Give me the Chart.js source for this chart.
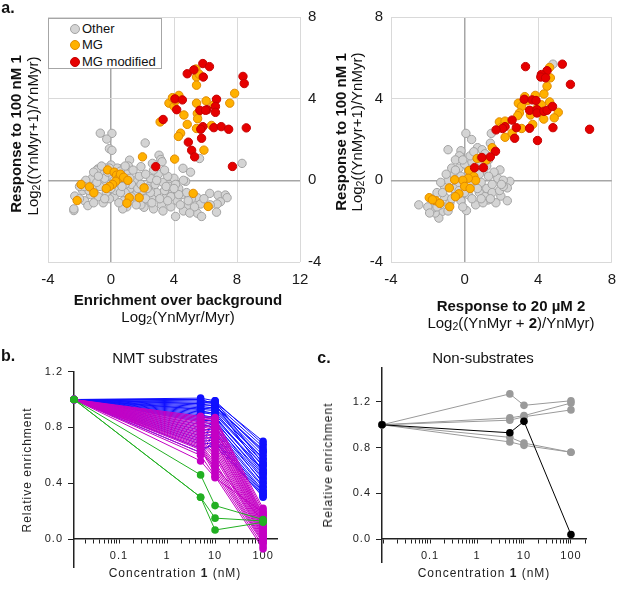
<!DOCTYPE html>
<html>
<head>
<meta charset="utf-8">
<script src="https://cdn.jsdelivr.net/npm/chart.js@4/dist/chart.umd.min.js"></script>
<style>
  body { margin: 0; background: #fff; }
  #fig { position: relative; width: 625px; height: 607px; overflow: hidden;
         font-family: "Liberation Sans", Arial, sans-serif; color: #111; }
  canvas { position: absolute; }
  .t { position: absolute; white-space: nowrap; line-height: 1; transform: translate(-50%, -50%); }
  .r { transform: translate(-50%, -50%) rotate(-90deg); }
  .b { font-weight: bold; }
  .f15 { font-size: 15px; }
  .sp { font-size: 12px; letter-spacing: 1px; color: #222; }
  .panel { font-size: 16px; font-weight: bold; }
  sub { font-size: 70%; vertical-align: -0.25em; line-height: 0; }
  #legend { position: absolute; left: 48px; top: 18px; width: 112px; height: 49px;
            border: 1px solid #a6a6a6; background: #fff; font-size: 13px; }
  #legend div { position: absolute; left: 21px; white-space: nowrap; line-height: 1; }
  #legend span { display: inline-block; width: 8px; height: 8px; border-radius: 50%;
                 border: 1px solid; margin-right: 2px; vertical-align: -1px; }
</style>
</head>
<body>
<div id="fig">
  <canvas id="scatter-left" width="340" height="300" style="left:0;top:0"></canvas>
  <canvas id="scatter-right" width="295" height="300" style="left:330px;top:0"></canvas>
  <canvas id="nmt-chart" width="300" height="240" style="left:0;top:360px"></canvas>
  <canvas id="non-chart" width="300" height="240" style="left:310px;top:356px"></canvas>

  <div id="legend">
    <div style="top:3px"><span style="background:#d4d4d4;border-color:#a3a3a3"></span>Other</div>
    <div style="top:19px"><span style="background:#ffb100;border-color:#e08a00"></span>MG</div>
    <div style="top:36px"><span style="background:#e60000;border-color:#c40000"></span>MG modified</div>
  </div>

  <div class="t panel" style="left:8px;top:8px">a.</div>
  <div class="t r b f15" style="left:15px;top:134px">Response to 100 nM 1</div>
  <div class="t r f15" style="left:32px;top:136px">Log<sub>2</sub>((YnMyr+1)/YnMyr)</div>
  <div class="t b f15" style="left:178px;top:299px">Enrichment over background</div>
  <div class="t f15" style="left:178px;top:316px">Log<sub>2</sub>(YnMyr/Myr)</div>

  <div class="t r b f15" style="left:340px;top:132px">Response to 100 nM 1</div>
  <div class="t r f15" style="left:356px;top:132px">Log<sub>2</sub>((YnMyr+1)/YnMyr)</div>
  <div class="t b f15" style="left:511px;top:305px">Response to 20 µM 2</div>
  <div class="t f15" style="left:511px;top:322px">Log<sub>2</sub>((YnMyr + <b>2</b>)/YnMyr)</div>

  <div class="t panel" style="left:8px;top:356px">b.</div>
  <div class="t f15" style="left:165px;top:357px">NMT substrates</div>
  <div class="t r sp" style="left:27px;top:470px">Relative enrichment</div>
  <div class="t sp" style="left:175px;top:573px">Concentration <b>1</b> (nM)</div>

  <div class="t panel" style="left:324px;top:358px">c.</div>
  <div class="t f15" style="left:483px;top:357px">Non-substrates</div>
  <div class="t r sp" style="left:328px;top:465px">Relative enrichment</div>
  <div class="t sp" style="left:484px;top:573px">Concentration <b>1</b> (nM)</div>
</div>

<script>
// ---- panel a, left: enrichment over background (x) vs response to 100 nM 1 (y)
const enrichOther = [
  [-0.68, 2.31], [0.06, 2.3], [-0.27, 2.02], [-0.1, 1.55], [0.06, 1.47], [2.17, 1.83], [1.18, 0.99],
  [1.9, 0.67], [2.63, 0.83], [0, 0.75], [-0.84, 0.56], [0.74, 0.59], [3.05, 1.23], [3.16, 1.02],
  [3.24, 0.91], [4.57, 0.59], [5.05, 0.4], [5.62, 1.07], [8.32, 0.83], [4.74, -0.05],
  [6.27, -0.64], [6.8, -0.73], [7.26, -0.72], [7.37, -0.85], [6.95, -1.05], [6.74, -1.16], [6.7, -1.56],
  [5.48, -0.85], [5.69, -1.16], [5.48, -1.61], [5.75, -1.77], [4.84, -1.24], [4.1, -1.77], [5.1, -0.9],
  [4.5, -0.7], [4.2, -1.0], [3.9, -0.5], [3.5, -0.8], [3.2, -1.2], [2.9, -0.6], [2.6, -0.9], [2.3, -1.08],
  [2.1, -1.32], [2.4, -0.3], [2.8, -0.2], [3.3, -0.1], [3.7, -0.3], [4.0, 0.1], [3.0, 0.3], [2.5, 0.1],
  [3.6, 0.2], [4.3, -0.4], [4.8, -0.6], [3.4, -0.5], [2.0, -0.5], [1.6, -0.7], [1.4, -1.0], [1.2, -0.4],
  [1.5, 0.0], [1.8, 0.2], [2.2, 0.3], [2.7, 0.5], [3.4, 0.5], [4.1, -0.2], [5.3, -1.3], [4.6, -1.5],
  [3.8, -1.3], [3.3, -1.5], [2.7, -1.4], [1.9, -1.2], [1.0, -1.3], [0.74, -1.4],
  [-2.3, -0.77], [-2.36, -1.48], [-2.36, -1.4], [-1.68, -1.0], [-1.47, -1.24], [-2.0, -0.9], [-1.8, -0.5],
  [-1.5, -0.2], [-1.2, 0.1], [-1.0, -0.4], [-0.8, -0.8], [-0.6, 0.3], [-0.5, -0.1], [-0.3, 0.6],
  [-0.2, -0.5], [0.0, 0.2], [0.2, -0.8], [0.4, 0.6], [0.5, -0.3], [0.7, 0.1], [0.9, -0.6], [1.0, 0.4],
  [-1.3, -0.7], [-0.9, 0.5], [-0.7, -0.3], [-0.4, 0.1], [0.1, -0.2], [0.3, 0.3], [0.8, -1.0], [0.5, -1.1],
  [-0.1, -0.9], [-0.5, -1.1], [-1.1, -1.1], [-0.3, -0.6], [1.3, -0.2], [1.1, 0.7], [-0.6, 0.7],
  [-1.1, 0.4], [-0.2, 0.4], [0.6, 0.45], [-1.6, 0.0], [-2.0, -0.3], [1.6, -1.2], [0.3, -0.5], [0.9, -0.2],
  [1.7, -0.4], [2.5, -0.6], [3.1, -0.9], [3.8, -0.8], [4.4, -1.2], [5.0, -1.6], [2.2, -0.9], [1.3, -0.8],
  [0.0, -0.4], [-0.9, -0.1], [-1.4, -0.5], [0.6, -0.6], [4.6, 0.0],
  [-0.4, -0.9], [0.2, 0.0], [0.7, -0.3], [1.2, 0.1], [1.9, -0.2], [2.3, -0.4], [2.9, 0.0], [3.5, -0.3],
  [4.3, -0.7], [4.9, -1.0], [5.9, -0.9], [6.3, -1.2], [-1.7, -0.3], [-0.8, 0.2], [-0.1, 0.6], [0.9, 0.7],
  [1.4, 0.5], [2.6, -1.1], [3.6, -1.0], [4.0, -0.4]
];
const enrichMG = [
  [5.39, 5.45], [5.43, 5.06], [5.43, 4.66], [7.85, 4.26], [7.54, 3.78], [3.68, 3.78], [3.9, 4.05],
  [4.31, 4.16], [4.0, 3.62], [5.43, 3.78], [6.04, 3.89], [6.53, 3.7], [4.63, 3.2], [5.48, 3.27],
  [5.5, 3.02], [3.12, 2.86], [4.84, 2.74], [5.43, 2.54], [6.38, 2.69], [4.42, 2.31], [4.28, 2.15],
  [5.9, 1.48], [4.04, 1.04], [2.0, 1.15], [-1.9, -0.2], [-1.37, -0.32], [-1.09, -0.61], [-2.15, -0.99],
  [-0.21, 0.51], [0.2, 0.4], [0.35, 0.25], [0.5, 0.1], [0.3, -0.05], [0.1, -0.2], [0.6, 0.3], [0.8, 0.15],
  [-0.1, -0.3], [-0.3, -0.4], [1.07, 0.0], [2.1, -0.37], [1.16, -0.85], [1.01, -1.12], [1.79, -0.85],
  [5.22, -0.64], [6.17, -1.28], [5.6, 5.2], [4.1, 3.9]
];
const enrichMGmod = [
  [4.84, 5.22], [5.83, 5.72], [6.25, 5.57], [5.26, 5.41], [5.86, 5.06], [8.38, 5.09], [8.46, 4.74],
  [4.06, 3.99], [4.53, 3.94], [6.7, 3.97], [6.63, 3.62], [5.64, 3.43], [6.1, 3.46], [6.0, 3.43],
  [6.63, 3.33], [4.17, 3.46], [3.31, 2.98], [5.83, 2.63], [6.53, 2.58], [7.0, 2.63], [7.47, 2.5],
  [8.59, 2.57], [5.75, 2.06], [4.91, 1.87], [5.12, 1.47], [5.31, 1.15], [7.71, 0.68], [2.84, 0.67],
  [5.7, 2.5]
];

// ---- panel a, right: response to 20 uM 2 (x) vs response to 100 nM 1 (y)
const resp2Other = [
  [-2.49, -1.2], [0.07, 2.3], [0.38, 2.0], [-0.9, 1.5], [-0.2, 1.45], [0.7, 1.6], [0.95, 1.5],
  [-0.28, 1.2], [1.4, 1.82], [1.92, 0.51], [2.46, -0.05], [2.32, -0.37], [1.97, -0.77], [2.32, -1.0],
  [1.28, -0.96], [0.1, -1.48], [-1.23, -1.53], [-1.4, -1.85], [-1.6, -1.6], [-1.7, -1.35], [4.8, 5.69],
  [1.45, 2.3], [-1.8, -0.9], [-1.5, -0.6], [-1.1, -0.3], [-0.9, 0.0], [-0.6, 0.3], [-0.3, 0.6],
  [0.0, 0.8], [0.3, 0.5], [0.6, 0.2], [0.9, -0.1], [1.2, -0.4], [1.5, -0.2], [1.8, 0.1], [1.6, 0.4],
  [2.1, 0.0], [1.3, 0.2], [1.0, 0.5], [0.5, -0.3], [0.2, -0.7], [-0.2, -1.0], [-0.5, -0.7], [-0.8, -1.1],
  [-1.1, -0.8], [-1.3, -1.2], [-0.4, -0.2], [0.1, 0.1], [0.4, 0.9], [-0.7, 0.6], [-1.0, 0.3],
  [-1.3, -0.1], [0.8, -0.6], [1.1, -0.8], [1.5, -0.6], [1.7, -1.1], [0.6, -1.2], [-0.1, -1.3],
  [-0.9, -1.5], [1.9, -0.5], [2.1, -0.3], [0.3, 1.2], [-0.5, 1.0], [-1.6, -1.0], [-2.0, -1.3],
  [-1.9, -1.6], [0.9, 0.9], [1.3, 1.0], [-0.2, 0.2], [0.7, -0.4], [-0.6, -0.4], [1.0, -1.1], [0.4, -0.9],
  [-0.7, -0.9], [-0.3, -0.5], [0.3, -0.1], [0.8, 0.3], [1.2, 0.7], [-1.2, -0.6], [-0.5, 0.5], [0.0, -0.6],
  [1.4, -0.9], [2.0, -0.2], [-1.5, -1.3], [0.5, 1.4], [1.1, 1.3], [-0.1, 1.0], [0.9, -0.9]
];
const resp2MG = [
  [4.62, 5.53], [4.66, 5.02], [4.48, 4.61], [4.31, 4.23], [3.27, 4.1], [3.84, 4.16], [2.92, 3.78],
  [3.1, 3.62], [4.17, 3.7], [4.62, 3.84], [2.98, 3.3], [2.89, 3.17], [3.58, 3.2], [4.19, 3.3],
  [5.09, 3.33], [4.87, 3.06], [1.89, 2.86], [2.2, 2.9], [3.7, 2.74], [3.1, 2.54], [2.58, 2.31],
  [2.2, 2.11], [0.68, 1.07], [1.19, 0.99], [1.5, 1.6], [0.24, 0.48], [0.5, 0.19], [0.6, 0.0], [0.2, 0.1],
  [-0.1, 0.0], [0.0, -0.3], [0.3, -0.4], [-0.54, 0.03], [-0.83, -0.37], [-0.31, -0.66], [-1.92, -0.85],
  [-1.57, -1.0], [-1.35, -1.13], [-0.81, -1.29], [-1.75, -0.95], [3.4, 3.9], [3.9, 3.5], [4.3, 3.0],
  [2.0, 2.6], [0.9, 1.1], [-0.5, -0.8]
];
const resp2MGmod = [
  [3.31, 5.57], [5.31, 5.69], [4.48, 5.37], [4.17, 5.18], [4.14, 5.06], [4.4, 5.02], [5.75, 4.7],
  [3.24, 3.97], [3.67, 3.94], [3.88, 3.91], [3.53, 3.43], [3.93, 3.46], [3.93, 3.3], [4.31, 3.38],
  [4.48, 3.43], [4.78, 3.62], [2.58, 2.95], [3.53, 2.55], [2.81, 2.58], [2.2, 2.63], [2.06, 2.54],
  [1.71, 2.47], [2.72, 2.06], [4.8, 2.58], [6.79, 2.5], [3.96, 1.95], [1.68, 1.42], [1.4, 1.15],
  [0.94, 1.12], [0.54, 0.62], [1.02, 0.62]
];

// ---- panels b and c: relative enrichment at 5, 10 and 100 nM (1.0 at 0 nM)
const concentrations = [0, 5, 10, 100];
const concLabels = [0.1, 1, 10, 100];
const relTicks = [0, 0.4, 0.8, 1.2];
const zeroDoseValue = 1;

const blueRows = [
  [0.99, 0.98, 0.70], [1.01, 0.99, 0.68], [0.98, 0.97, 0.66], [0.97, 0.95, 0.64], [0.96, 0.96, 0.62],
  [0.95, 0.94, 0.60], [0.94, 0.93, 0.58], [0.93, 0.92, 0.57], [0.92, 0.90, 0.55], [0.91, 0.89, 0.53],
  [0.90, 0.91, 0.52], [0.89, 0.87, 0.50], [0.88, 0.86, 0.49], [0.87, 0.88, 0.47], [0.86, 0.84, 0.46],
  [0.85, 0.85, 0.44], [0.84, 0.82, 0.43], [0.82, 0.80, 0.41], [0.80, 0.83, 0.40], [0.78, 0.79, 0.38],
  [0.76, 0.77, 0.37], [0.74, 0.75, 0.35], [0.72, 0.73, 0.34], [0.70, 0.71, 0.33], [0.68, 0.69, 0.32],
  [0.65, 0.67, 0.31], [0.62, 0.70, 0.30], [0.97, 0.99, 0.54], [0.93, 0.95, 0.63], [1.00, 0.97, 0.48]
];
const magentaRows = [
  [0.88, 0.87, 0.22], [0.87, 0.86, 0.20], [0.86, 0.85, 0.18], [0.85, 0.83, 0.17], [0.84, 0.82, 0.16],
  [0.83, 0.80, 0.15], [0.82, 0.79, 0.14], [0.81, 0.78, 0.13], [0.80, 0.76, 0.12], [0.79, 0.75, 0.11],
  [0.78, 0.73, 0.10], [0.77, 0.72, 0.09], [0.76, 0.70, 0.08], [0.75, 0.69, 0.07], [0.74, 0.67, 0.06],
  [0.73, 0.65, 0.05], [0.72, 0.63, 0.04], [0.71, 0.61, 0.03], [0.70, 0.60, 0.02], [0.69, 0.58, 0.01],
  [0.68, 0.55, 0.00], [0.67, 0.53, -0.01], [0.66, 0.51, -0.02], [0.65, 0.49, -0.03], [0.64, 0.47, -0.05],
  [0.60, 0.45, -0.07], [0.56, 0.44, 0.19], [0.62, 0.52, 0.13]
];
const greenRows = [[0.46, 0.24, 0.14], [0.30, 0.15, 0.13], [0.30, 0.065, 0.12]];

const grayRowsC = [
  [1.27, 1.17, 1.21], [1.06, 1.08, 1.19], [1.04, 1.07, 1.13], [0.89, 0.84, 0.76], [0.85, 0.82, 0.76]
];
const blackRowsC = [[0.93, 1.03, 0.04]];

const font = "'Liberation Sans', Arial, sans-serif";
const toXY = (pairs) => pairs.map(([x, y]) => ({ x: x, y: y }));

// scatter panels --------------------------------------------------------
const gridColor = (ctx) => (ctx.tick && ctx.tick.value === 0 ? "#a6a6a6" : "#d9d9d9");
const gridWidth = (ctx) => (ctx.tick && ctx.tick.value === 0 ? 1.5 : 1);

const pointSet = (pairs, fill, edge, order) => ({
  data: toXY(pairs),
  backgroundColor: fill,
  borderColor: edge,
  borderWidth: 1,
  pointRadius: 4.2,
  order: order,
  clip: false,
});

const scatterChart = (id, sets, xMin, xMax, yPos, yWidth, padding) => {
  new Chart(document.getElementById(id), {
    type: "scatter",
    data: {
      datasets: [
        pointSet(sets[0], "#d4d4d4", "#a3a3a3", 3),
        pointSet(sets[1], "#ffb100", "#e08a00", 2),
        pointSet(sets[2], "#e60000", "#c40000", 1),
      ],
    },
    options: {
      responsive: false,
      animation: false,
      layout: { padding: padding },
      plugins: { legend: { display: false }, tooltip: { enabled: false } },
      scales: {
        x: {
          min: xMin,
          max: xMax,
          ticks: { stepSize: 4, color: "#1a1a1a", font: { family: font, size: 15 }, padding: 9, maxRotation: 0 },
          grid: { color: gridColor, lineWidth: gridWidth, drawTicks: false },
          border: { display: false },
          afterFit: (s) => { s.height = 30; },
        },
        y: {
          position: yPos,
          min: -4,
          max: 8,
          ticks: { stepSize: 4, color: "#1a1a1a", font: { family: font, size: 15 }, padding: 8 },
          grid: { color: gridColor, lineWidth: gridWidth, drawTicks: false },
          border: { display: false },
          afterFit: (s) => { s.width = yWidth; },
        },
      },
    },
  });
};

scatterChart("scatter-left", [enrichOther, enrichMG, enrichMGmod], -4, 12, "right", 30,
  { left: 48, top: 12, right: 10, bottom: 8 });
scatterChart("scatter-right", [resp2Other, resp2MG, resp2MGmod], -4, 8, "left", 61,
  { left: 0, top: 12, right: 5, bottom: 8 });

// dose response panels ---------------------------------------------------
const spacing = { id: "spacing", beforeDraw: (chart) => { chart.ctx.letterSpacing = "1px"; } };

const logTicks = (min, max) => {
  const t = [];
  for (let e = -2; e <= 2; e++) {
    for (let m = 1; m <= 9; m++) {
      const v = m * Math.pow(10, e);
      if (v >= min && v <= max) t.push({ value: v });
    }
  }
  return t;
};

const doseSets = (groups, xMin) => {
  const sets = [];
  groups.forEach((g, gi) => {
    g.rows.forEach((row) => {
      const values = [zeroDoseValue, ...row];
      sets.push({
        data: concentrations.map((c, i) => ({ x: c === 0 ? xMin : c, y: values[i] })),
        showLine: true,
        borderColor: g.color,
        backgroundColor: g.color,
        borderWidth: 1,
        pointRadius: 3.8,
        pointBorderWidth: 0,
        order: gi + 1,
        clip: false,
      });
    });
  });
  return sets;
};

// the x axis sits at y = 0, so the space under it comes from the layout padding
const doseChart = (id, groups, xMin, xMax, yMax, dims) => {
  new Chart(document.getElementById(id), {
    type: "scatter",
    data: { datasets: doseSets(groups, xMin) },
    options: {
      responsive: false,
      animation: false,
      layout: { padding: { left: 0, top: dims.top, right: dims.right, bottom: dims.bottom } },
      plugins: { legend: { display: false }, tooltip: { enabled: false } },
      scales: {
        x: {
          type: "logarithmic",
          position: { y: 0 },
          min: xMin,
          max: xMax,
          afterBuildTicks: (s) => { s.ticks = logTicks(xMin, xMax); },
          ticks: {
            autoSkip: false,
            maxRotation: 0,
            color: "#222",
            font: { family: font, size: 11 },
            padding: 6,
            callback: (v) => (concLabels.includes(v) ? String(v) : ""),
          },
          grid: { drawOnChartArea: false, tickLength: 4, color: "#222" },
          border: { color: "#222", width: 1.5 },
          afterFit: (s) => { s.height = 0; },
        },
        y: {
          min: -0.2,
          max: yMax,
          afterBuildTicks: (s) => { s.ticks = relTicks.map((v) => ({ value: v })); },
          ticks: {
            color: "#222",
            font: { family: font, size: 11 },
            padding: 5,
            callback: (v) => v.toFixed(1),
          },
          grid: { drawOnChartArea: false, tickLength: 6, color: "#222" },
          border: { color: "#222", width: 1.5 },
          afterFit: (s) => { s.width = dims.yWidth; },
        },
      },
    },
    plugins: [spacing],
  });
};

doseChart("nmt-chart", [
  { rows: greenRows, color: "#22b022" },
  { rows: magentaRows, color: "#c400c4" },
  { rows: blueRows, color: "#1010ff" },
], 0.01155, 195, 1.2, { top: 11, right: 23, bottom: 33, yWidth: 74 });

doseChart("non-chart", [
  { rows: blackRowsC, color: "#000000" },
  { rows: grayRowsC, color: "#9a9a9a" },
], 0.0095, 209, 1.5, { top: 11, right: 24, bottom: 34, yWidth: 72 });
</script>
</body>
</html>
